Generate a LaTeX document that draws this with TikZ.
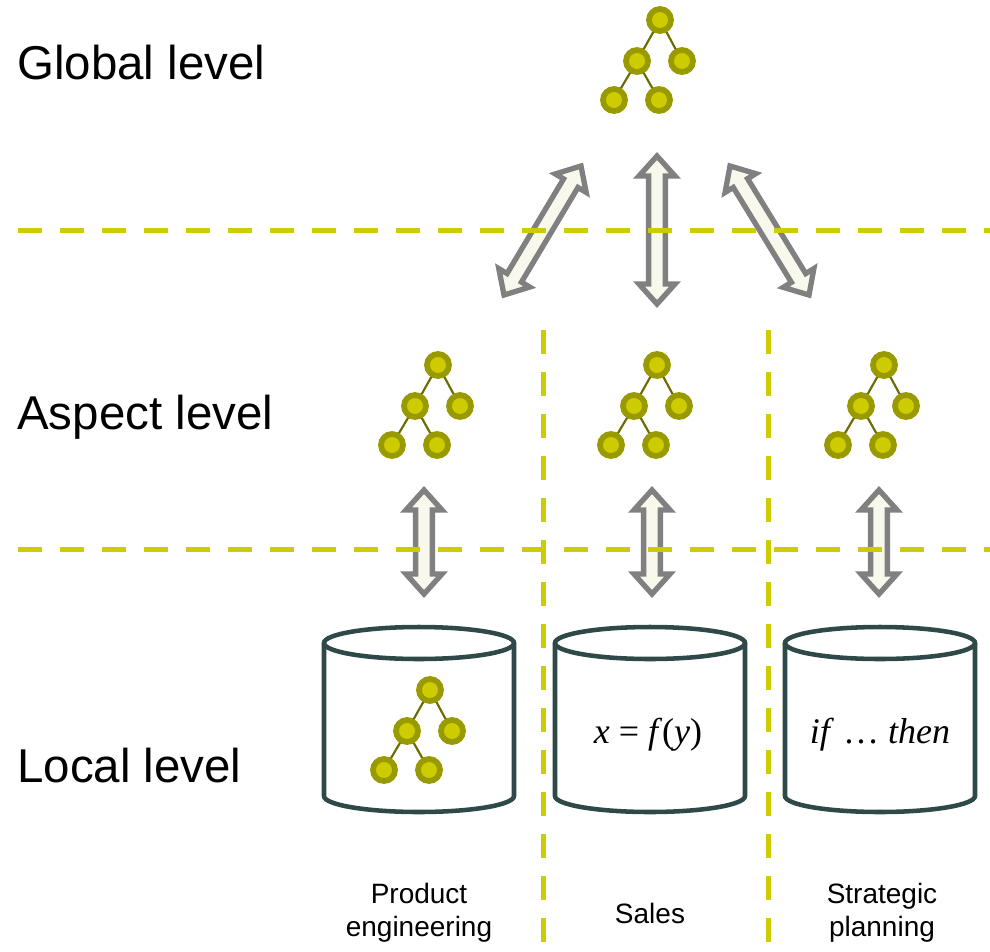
\documentclass[tikz,border=0pt]{standalone}
\usepackage{fontspec}
\setmainfont{Liberation Sans}
\newfontfamily\formfont{Liberation Serif}
\usetikzlibrary{calc}

\definecolor{olivefill}{HTML}{CCCC00}
\definecolor{oliveedge}{HTML}{999900}
\definecolor{olivelink}{HTML}{6B6B00}
\definecolor{dashcol}{HTML}{CCCC00}
\definecolor{arrowline}{HTML}{808080}
\definecolor{arrowfill}{HTML}{F8F8EC}
\definecolor{cylcol}{HTML}{2E4948}

\tikzset{
  treenode/.style={circle, fill=olivefill, draw=oliveedge, line width=4.3pt,
    minimum size=16.5pt, inner sep=0pt, outer sep=2pt},
  treelink/.style={draw=olivelink, line width=1.6pt},
  tree/.pic={
    \node[treenode] (-r) at (0,0) {};
    \node[treenode] (-a) at (-23,41) {};
    \node[treenode] (-b) at (22,41) {};
    \node[treenode] (-c) at (-46,80) {};
    \node[treenode] (-d) at (-1,80) {};
    \draw[treelink] (-r) -- (-a);
    \draw[treelink] (-r) -- (-b);
    \draw[treelink] (-a) -- (-c);
    \draw[treelink] (-a) -- (-d);
  },
  levelline/.style={draw=dashcol, line width=3.75pt, dash pattern=on 18pt off 13.5pt},
  blockarrow/.style={draw=arrowline, fill=arrowfill, line width=4pt, line join=miter},
  cylline/.style={draw=cylcol, line width=3.4pt},
  levellabel/.style={font=\fontsize{35.6}{40}\selectfont, anchor=base west, inner sep=0pt},
  sectorlabel/.style={font=\fontsize{21}{25}\selectfont, align=center, inner sep=0pt},
  formula/.style={font=\formfont\fontsize{27}{30}\selectfont, anchor=base, inner sep=0pt},
}

% double-headed block arrow between two named points
\newcommand\dblarrow[2]{%
  \coordinate (ha) at ($(#1)!15pt!(#2)$);
  \coordinate (hb) at ($(#2)!15pt!(#1)$);
  \draw[blockarrow] (#1) -- ($(ha)!13.5pt!90:(#2)$) -- ($(ha)!6.3pt!90:(#2)$)
    -- ($(hb)!6.3pt!-90:(#1)$) -- ($(hb)!13.5pt!-90:(#1)$) -- (#2)
    -- ($(hb)!13.5pt!90:(#1)$) -- ($(hb)!6.3pt!90:(#1)$)
    -- ($(ha)!6.3pt!-90:(#2)$) -- ($(ha)!13.5pt!-90:(#2)$) -- cycle;}

% data store drawn as a cylinder centred on x = #1
\newcommand\datastore[1]{%
  \draw[cylline, fill=white] (#1-95,643) -- (#1-95,796)
    arc[start angle=180, end angle=0, x radius=95, y radius=16] -- (#1+95,643);
  \draw[cylline] (#1,643) ellipse [x radius=95, y radius=16];}

\begin{document}
\begin{tikzpicture}[x=0.75pt, y=-0.75pt]
  \useasboundingbox (0,0) rectangle (990,951);

  % level labels
  \node[levellabel] (lglobal) at (17,79) {Global level};
  \node[levellabel] (laspect) at (17,429) {Aspect level};
  \node[levellabel] (llocal)  at (17,782) {Local level};

  % trees
  \pic (gtree) at (660,20) {tree};
  \pic (atree1) at (438,365) {tree};
  \pic (atree2) at (657,365) {tree};
  \pic (atree3) at (884,365) {tree};

  % data stores
  \datastore{419}
  \datastore{650}
  \datastore{880}
  \pic (ltree) at (430,690) {tree};
  \node[formula] (fsales) at (648,743) {\textit{x}\ =\ \textit{f}(\textit{y})};
  \node[formula] (fplan) at (880,743) {\textit{if} \ldots\ \textit{then}};

  % arrow end points
  \coordinate (g1a) at (504,295);  \coordinate (g1b) at (581,166);
  \coordinate (g2a) at (657,156);  \coordinate (g2b) at (657,304);
  \coordinate (g3a) at (730,166);  \coordinate (g3b) at (809,295);
  \coordinate (l1a) at (424,490);  \coordinate (l1b) at (424,594);
  \coordinate (l2a) at (652,490);  \coordinate (l2b) at (652,594);
  \coordinate (l3a) at (879,490);  \coordinate (l3b) at (879,594);

  \dblarrow{g1a}{g1b}
  \dblarrow{g2a}{g2b}
  \dblarrow{g3a}{g3b}
  \dblarrow{l1a}{l1b}
  \dblarrow{l2a}{l2b}
  \dblarrow{l3a}{l3b}

  % level separators
  \draw[levelline] (18,230) -- (990,230);
  \draw[levelline] (18,549) -- (990,549);
  \draw[levelline] (543,330) -- (543,951);
  \draw[levelline] (768,330) -- (768,951);

  % sector labels
  \node[sectorlabel] (spe) at (419,913) {Product\\engineering};
  \node[sectorlabel] (ssa) at (650,913) {Sales};
  \node[sectorlabel] (ssp) at (882,913) {Strategic\\planning};
\end{tikzpicture}
\end{document}
